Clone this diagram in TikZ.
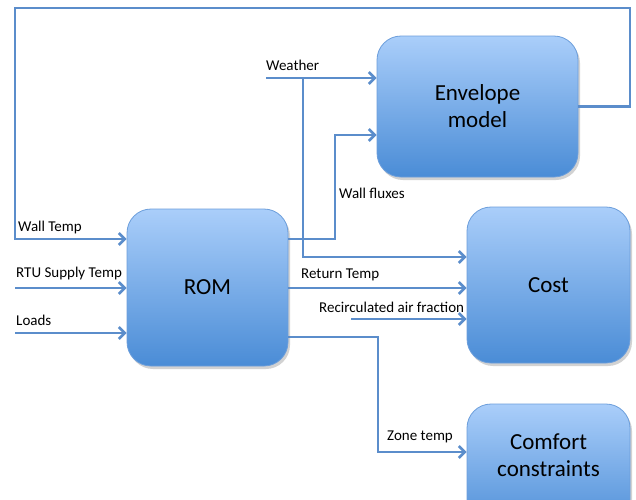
\documentclass[tikz,border=0pt]{standalone}
\usepackage{fontspec}
\setmainfont{Carlito}
\usetikzlibrary{arrows.meta,shadows}
\definecolor{lineblue}{HTML}{5B8DCB}
\definecolor{boxtop}{HTML}{AACEFA}
\definecolor{boxbot}{HTML}{4A8CD6}
\definecolor{boxedge}{HTML}{6C9EDB}
\begin{document}
\begin{tikzpicture}[x=1pt,y=-1pt,
  blk/.style={rounded corners=24pt, draw=boxedge, line width=0.8pt,
    top color=boxtop, bottom color=boxbot,
    drop shadow={shadow xshift=2pt, shadow yshift=-3pt, opacity=0.35},
    align=center, font=\fontsize{23}{27}\selectfont, inner sep=0pt},
  conn/.style={draw=lineblue, line width=2.6pt},
  arr/.style={conn, -{Straight Barb[length=6pt,width=12pt]}},
  lbl/.style={font=\fontsize{15}{17}\selectfont, anchor=west, inner sep=0pt}]
\useasboundingbox (0,0) rectangle (636,499);
\fill[white] (0,0) rectangle (636,499);

% blocks
\node[blk, minimum width=201pt, minimum height=141pt] (env) at (477.5,106.5) {Envelope\\model};
\node[blk, minimum width=161pt, minimum height=157pt] (rom) at (207.5,287.5) {ROM};
\node[blk, minimum width=163pt, minimum height=156pt] (cost) at (548.5,285) {Cost};
\node[blk, minimum width=163pt, minimum height=129pt] (comfort) at (548.5,468.5) {Comfort\\constraints\\ \mbox{}};

% free ends
\coordinate (lpR) at (630,8);
\coordinate (lpL) at (15,8);
\coordinate (wst) at (266,78);
\coordinate (wbr) at (303,78);
\coordinate (rtu) at (15,288);
\coordinate (lds) at (15,333);
\coordinate (rec) at (351,319);

% connectors
\draw[arr] (env.east) -- (env.east -| lpR) -- (lpR) -- (lpL) -- (15,239) -- (rom.west |- 0,239);
\draw[arr] (wst) -- (wst -| env.west);
\draw[arr] (wbr) -- (303,257) -- (cost.west |- 0,257);
\draw[arr] (rom.east |- 0,239) -- (335,239) -- (335,135) -- (env.west |- 0,135);
\draw[arr] (rtu) -- (rom.west |- rtu);
\draw[arr] (lds) -- (rom.west |- lds);
\draw[arr] (rom.east |- 0,288) -- (cost.west |- 0,288);
\draw[arr] (rec) -- (cost.west |- rec);
\draw[arr] (rom.east |- 0,337) -- (378,337) -- (378,452) -- (comfort.west |- 0,452);

% labels
\node[lbl] (lweather) at (266,65) {Weather};
\node[lbl] (lflux) at (339,193) {Wall fluxes};
\node[lbl] (lwall) at (18,227) {Wall Temp};
\node[lbl] (lrtu) at (16,273) {RTU Supply Temp};
\node[lbl] (lloads) at (16,320) {Loads};
\node[lbl] (lret) at (301,275) {Return Temp};
\node[lbl] (lrec) at (319,307) {Recirculated air fraction};
\node[lbl] (lzone) at (387,437) {Zone temp};
\end{tikzpicture}
\end{document}
